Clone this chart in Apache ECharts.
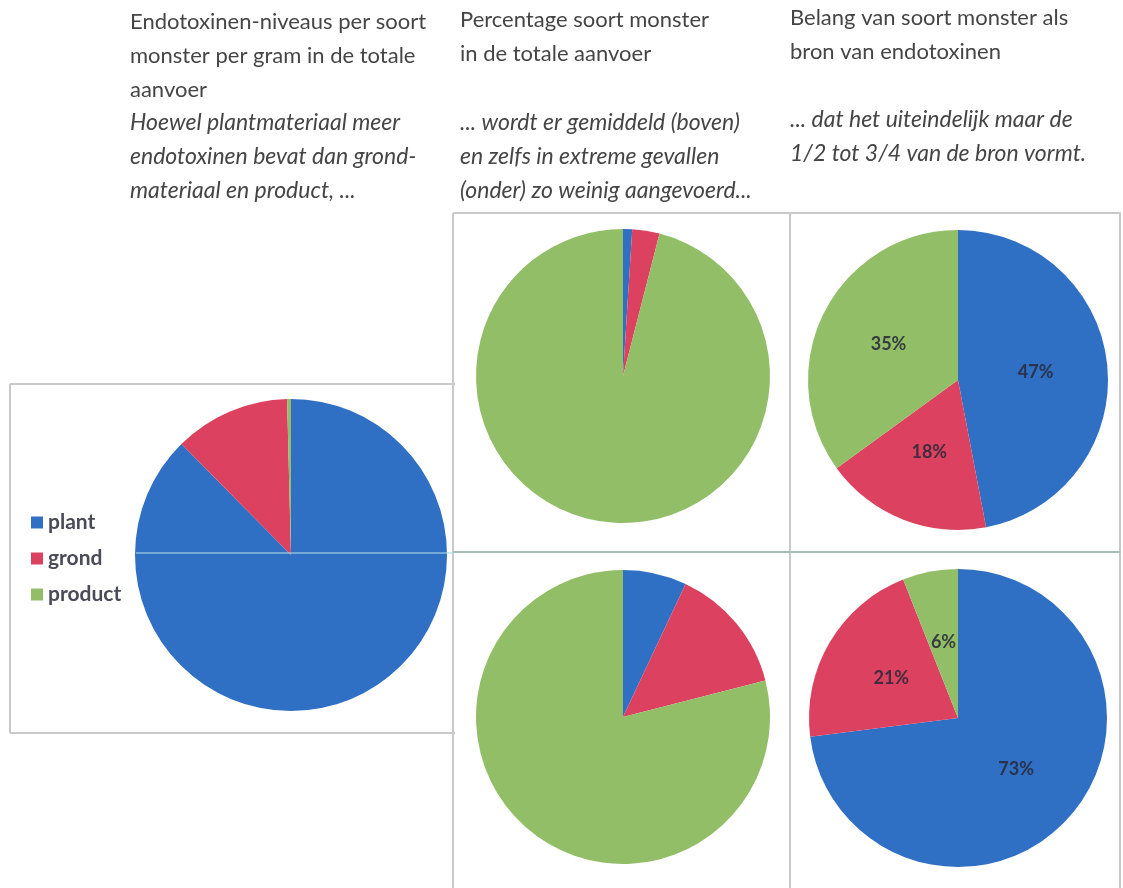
<!DOCTYPE html>
<html>
<head>
<meta charset="utf-8">
<script src="https://cdn.jsdelivr.net/npm/echarts@6/dist/echarts.min.js"></script>
<style>
html,body{margin:0;padding:0;background:#fff;}
#chart{width:1123px;height:888px;}
</style>
</head>
<body>
<div id="chart"></div>
<script>
// ---- data ----
const categories = ['plant', 'grond', 'product'];
const colors = ['#2f70c4', '#dc4260', '#92be68'];
// Endotoxinen-niveaus per soort monster per gram
const levelsValues = [87.6, 12.0, 0.4];
// Percentage soort monster in de totale aanvoer: gemiddeld (boven) / extreem (onder)
const shareAvgValues = [1, 3, 96];
const shareExtremeValues = [7, 14, 79];
// Belang als bron van endotoxinen: gemiddeld (boven) / extreem (onder)
const importanceAvgValues = [47, 18, 35];
const importanceExtremeValues = [73, 21, 6];

const col1Normal = ['Endotoxinen-niveaus per soort', 'monster per gram in de totale', 'aanvoer'];
const col1Italic = ['Hoewel plantmateriaal meer', 'endotoxinen bevat dan grond-', 'materiaal en product, ...'];
const col2Normal = ['Percentage soort monster', 'in de totale aanvoer'];
const col2Italic = ['... wordt er gemiddeld (boven)', 'en zelfs in extreme gevallen', '(onder) zo weinig aangevoerd...'];
const col3Normal = ['Belang van soort monster als', 'bron van endotoxinen'];
const col3Italic = ['... dat het uiteindelijk maar de', '1/2 tot 3/4 van de bron vormt.'];

const LFONT = 'Lato, "Noto Sans", sans-serif';
const chart = echarts.init(document.getElementById('chart'));

function mkData(vals) {
  return categories.map((c, i) => ({ name: c, value: vals[i], itemStyle: { color: colors[i] } }));
}
function pie(center, radius, vals, showLabel) {
  return {
    type: 'pie', center: center, radius: radius, startAngle: 90, clockwise: true,
    silent: true, animation: false,
    itemStyle: { borderWidth: 0 },
    label: showLabel ? {
      show: true, position: 'inside', formatter: '{d}%',
      fontFamily: LFONT, fontSize: 18, fontWeight: 'bold', color: 'rgba(40,40,55,0.85)'
    } : { show: false },
    labelLine: { show: false },
    emphasis: { disabled: true },
    data: mkData(vals)
  };
}

function textBlock(x, y0, lines, italic) {
  return lines.map((t, i) => ({
    type: 'text', left: x, top: y0 + i * 34,
    style: { text: t, fontFamily: LFONT, fontSize: italic ? 23 : 22, fontStyle: italic ? 'italic' : 'normal', fill: '#454545' }
  }));
}
function line(x1, y1, x2, y2, color, w) {
  return { type: 'line', shape: { x1, y1, x2, y2 }, style: { stroke: color || '#c9c9c9', lineWidth: w || 2 }, z: 1 };
}

const graphics = [].concat(
  textBlock(130, 11, col1Normal, false),
  textBlock(130, 111, col1Italic, true),
  textBlock(460, 9, col2Normal, false),
  textBlock(460, 111, col2Italic, true),
  textBlock(790, 7, col3Normal, false),
  textBlock(790, 108, col3Italic, true),
  [
    // left box
    line(10, 384, 455, 384), line(10, 384, 10, 733), line(10, 733, 455, 733),
    // middle/right grid
    line(453, 213, 1121, 213), line(453, 213, 453, 888),
    line(790, 212, 790, 888), line(1120, 213, 1120, 888),
    line(453, 552, 1121, 552, '#a9bdb6', 2),
    // faint scan line across the left pie
    { type: 'line', shape: { x1: 136, y1: 553, x2: 453, y2: 553 }, style: { stroke: 'rgba(170,215,230,0.75)', lineWidth: 1.5 }, z: 100 }
  ]
);

chart.setOption({
  backgroundColor: '#ffffff',
  animation: false,
  legend: {
    data: categories, orient: 'vertical', left: 26, top: 507, itemGap: 15,
    icon: 'rect', itemWidth: 12, itemHeight: 12, selectedMode: false,
    textStyle: { fontFamily: LFONT, fontSize: 21, fontWeight: 'bold', color: '#4a4a58' }
  },
  graphic: graphics,
  series: [
    pie([291, 555], 156, levelsValues, false),
    pie([623, 376], 147, shareAvgValues, false),
    pie([623, 717], 147, shareExtremeValues, false),
    pie([958, 380], 150, importanceAvgValues, true),
    pie([958, 718], 149, importanceExtremeValues, true)
  ]
});
</script>
</body>
</html>
